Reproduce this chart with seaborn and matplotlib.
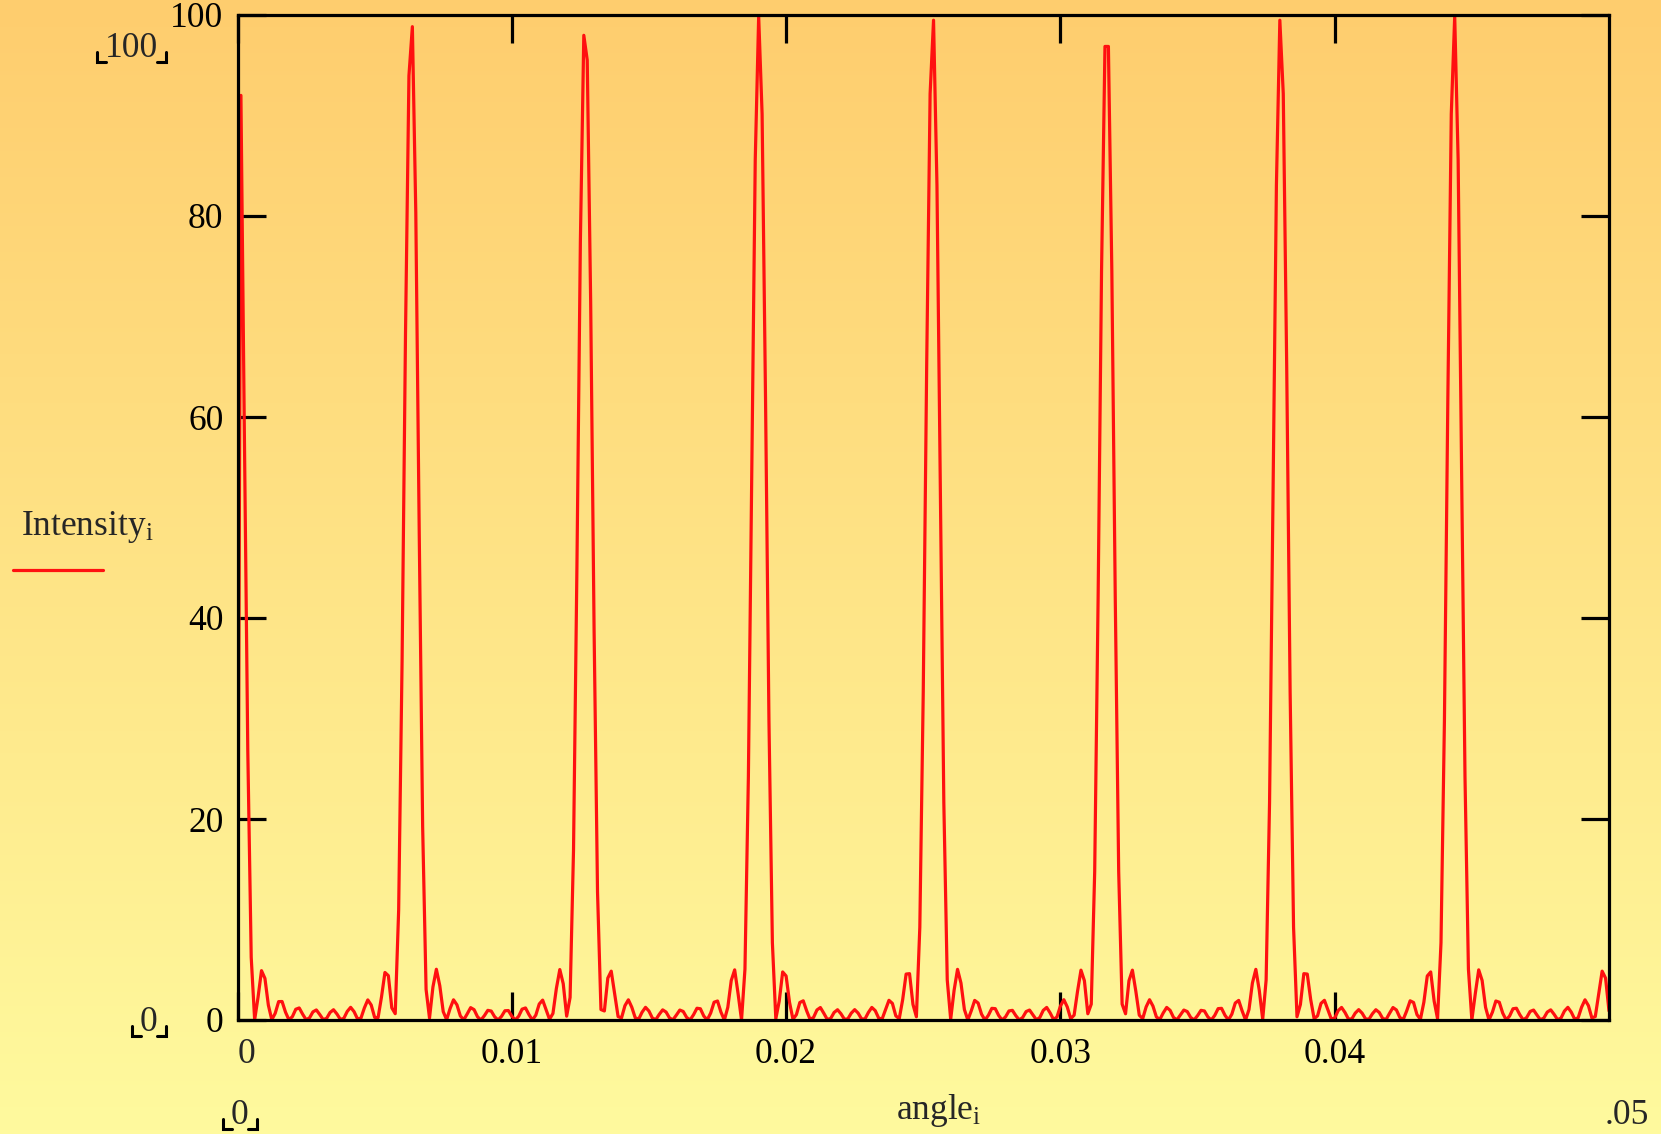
import numpy as np
import matplotlib
matplotlib.use("Agg")
import matplotlib.pyplot as plt
from matplotlib.lines import Line2D
import seaborn as sns

# Sampling of the diffraction angle (rad) and the sampled intensity (% of peak)
ANGLE_STEP = 0.000125
intensity = [
    0.0, 92.0, 58.44, 26.81, 6.23, 0.02, 2.28, 4.91, 4.14, 1.48,
    0.02, 0.67, 1.83, 1.84, 0.78, 0.02, 0.33, 1.07, 1.20, 0.58,
    0.03, 0.21, 0.81, 1.00, 0.54, 0.04, 0.17, 0.75, 1.02, 0.60,
    0.06, 0.16, 0.85, 1.26, 0.83, 0.11, 0.18, 1.20, 2.00, 1.49,
    0.26, 0.23, 2.30, 4.73, 4.41, 1.21, 0.63, 10.92, 35.68, 68.34,
    93.96, 98.84, 80.34, 48.52, 19.20, 3.04, 0.19, 3.29, 5.05, 3.41,
    0.83, 0.03, 1.14, 2.01, 1.51, 0.40, 0.02, 0.61, 1.23, 1.03,
    0.32, 0.00, 0.43, 0.96, 0.89, 0.32, 0.00, 0.36, 0.92, 0.94,
    0.38, 0.00, 0.37, 1.08, 1.20, 0.54, 0.00, 0.48, 1.59, 1.98,
    1.04, 0.07, 0.65, 3.14, 5.02, 3.61, 0.38, 2.24, 16.91, 45.23,
    77.48, 97.98, 95.51, 71.49, 38.80, 12.76, 1.04, 0.90, 4.17, 4.86,
    2.58, 0.34, 0.21, 1.43, 2.01, 1.27, 0.22, 0.08, 0.78, 1.26,
    0.89, 0.19, 0.04, 0.56, 1.01, 0.79, 0.20, 0.02, 0.49, 0.99,
    0.85, 0.25, 0.01, 0.52, 1.17, 1.12, 0.39, 0.01, 0.69, 1.77,
    1.89, 0.78, 0.00, 1.26, 3.93, 4.99, 2.61, 0.00, 5.06, 24.21,
    55.18, 85.58, 99.87, 90.15, 61.83, 29.73, 7.68, 0.12, 1.89, 4.78,
    4.38, 1.76, 0.07, 0.53, 1.74, 1.91, 0.91, 0.06, 0.25, 1.00,
    1.24, 0.67, 0.06, 0.15, 0.75, 1.02, 0.62, 0.08, 0.11, 0.68,
    1.03, 0.69, 0.11, 0.10, 0.75, 1.25, 0.93, 0.19, 0.10, 1.03,
    1.96, 1.65, 0.41, 0.13, 2.03, 4.57, 4.61, 1.55, 0.32, 9.23,
    32.66, 65.11, 92.16, 99.48, 83.04, 51.85, 21.64, 3.98, 0.07, 2.96,
    5.04, 3.68, 1.04, 0.00, 0.91, 1.95, 1.69, 0.58, 0.00, 0.47,
    1.16, 1.13, 0.45, 0.00, 0.31, 0.90, 0.96, 0.43, 0.01, 0.25,
    0.84, 0.99, 0.50, 0.02, 0.25, 0.96, 1.25, 0.71, 0.05, 0.30,
    1.38, 2.02, 1.30, 0.13, 0.48, 2.86, 4.96, 3.91, 0.62, 1.58,
    14.76, 41.99, 74.54, 96.87, 96.87, 74.54, 41.99, 14.76, 1.58, 0.62,
    3.91, 4.96, 2.86, 0.48, 0.13, 1.30, 2.02, 1.38, 0.30, 0.05,
    0.71, 1.25, 0.96, 0.25, 0.02, 0.50, 0.99, 0.84, 0.25, 0.01,
    0.43, 0.96, 0.90, 0.31, 0.00, 0.45, 1.13, 1.16, 0.47, 0.00,
    0.58, 1.69, 1.95, 0.91, 0.00, 1.04, 3.68, 5.04, 2.96, 0.07,
    3.98, 21.64, 51.85, 83.04, 99.48, 92.16, 65.11, 32.66, 9.23, 0.32,
    1.55, 4.61, 4.57, 2.03, 0.13, 0.41, 1.65, 1.96, 1.03, 0.10,
    0.19, 0.93, 1.25, 0.75, 0.10, 0.11, 0.69, 1.03, 0.68, 0.11,
    0.08, 0.62, 1.02, 0.75, 0.15, 0.06, 0.67, 1.24, 1.00, 0.25,
    0.06, 0.91, 1.91, 1.74, 0.53, 0.07, 1.76, 4.38, 4.78, 1.89,
    0.12, 7.68, 29.73, 61.83, 90.15, 99.87, 85.58, 55.18, 24.21, 5.06,
    0.00, 2.61, 4.99, 3.93, 1.26, 0.00, 0.78, 1.89, 1.77, 0.69,
    0.01, 0.39, 1.12, 1.17, 0.52, 0.01, 0.25, 0.85, 0.99, 0.49,
    0.02, 0.20, 0.79, 1.01, 0.56, 0.04, 0.19, 0.89, 1.26, 0.78,
    0.08, 0.22, 1.27, 2.01, 1.43, 0.21, 0.34, 2.58, 4.86, 4.17,
    0.90,
]
angle = np.arange(len(intensity)) * ANGLE_STEP

x_ticks = [0.0, 0.01, 0.02, 0.03, 0.04]
x_tick_labels = ["", "0.01", "0.02", "0.03", "0.04"]
y_ticks = [0, 20, 40, 60, 80, 100]
y_tick_labels = ["0", "20", "40", "60", "80", "100"]
x_range = (0.0, 0.05)
y_range = (0.0, 100.0)

FS = 25.5
sns.set_theme(style="ticks")
plt.rcParams["font.family"] = ["Liberation Serif", "DejaVu Serif"]
plt.rcParams["mathtext.fontset"] = "custom"
plt.rcParams["mathtext.rm"] = "Liberation Serif"
plt.rcParams["mathtext.it"] = "Liberation Serif:italic"

W, H = 1661, 1134
fig = plt.figure(figsize=(W / 100, H / 100), dpi=100)

# warm vertical background wash
top_rgb = np.array([254, 205, 110]) / 255.0
bot_rgb = np.array([255, 250, 158]) / 255.0
t = np.linspace(0, 1, 256)[:, None, None]
grad = top_rgb[None, None, :] * (1 - t) + bot_rgb[None, None, :] * t
bg = fig.add_axes([0, 0, 1, 1], zorder=-5)
bg.imshow(grad, aspect="auto", extent=[0, 1, 0, 1], origin="upper")
bg.set_axis_off()

left, right, top, bottom = 237.5, 1609.0, 15.0, 1020.0
ax = fig.add_axes([left / W, 1 - bottom / H, (right - left) / W, (bottom - top) / H])
ax.set_facecolor("none")

sns.lineplot(x=angle, y=intensity, ax=ax, color="#ff1010", lw=2.3,
             estimator=None, legend=False)

ax.set_xlim(*x_range)
ax.set_ylim(*y_range)
ax.set_xticks(x_ticks)
ax.set_xticklabels(x_tick_labels)
ax.set_yticks(y_ticks)
ax.set_yticklabels(y_tick_labels)
ax.set_xlabel("")
ax.set_ylabel("")
for s in ax.spines.values():
    s.set_visible(True)
    s.set_linewidth(2.3)
    s.set_color("black")
ax.tick_params(axis="both", direction="in", length=20, width=2.3,
               top=True, right=True, labelsize=FS, colors="black")
ax.tick_params(axis="x", pad=13)
ax.tick_params(axis="y", pad=10)


def fx(px):
    return px / W


def fy(py):
    return 1 - py / H


def bracketed(text, cx, baseline, half_w):
    fig.text(fx(cx), fy(baseline), text, ha="center", va="baseline", fontsize=FS)
    yb, yt, arm = baseline + 5, baseline - 5, 9
    xl, xr = cx - half_w, cx + half_w
    for xs, ys in (([xl, xl, xl + arm], [yt, yb, yb]),
                   ([xr - arm, xr, xr], [yb, yb, yt])):
        fig.add_artist(Line2D([fx(v) for v in xs], [fy(v) for v in ys],
                              transform=fig.transFigure, color="black",
                              lw=2.2, solid_joinstyle="miter"))


# first x tick label sits just right of the frame corner
fig.text(fx(246), fy(1063), "0", ha="center", va="baseline", fontsize=FS)

bracketed("100", 131.5, 57, 34.5)
bracketed("0", 148.5, 1031, 17)
bracketed("0", 239.5, 1124, 17)
fig.text(fx(1627), fy(1124), ".05", ha="center", va="baseline", fontsize=FS)
fig.text(fx(939), fy(1119), r"angle$_{\mathrm{i}}$", ha="center", va="baseline",
         fontsize=FS)

# series key on the left
fig.text(fx(21), fy(535), r"Intensity$_{\mathrm{i}}$", ha="left", va="baseline",
         fontsize=FS)
fig.add_artist(Line2D([fx(13), fx(103)], [fy(570), fy(570)],
                      transform=fig.transFigure, color="#ff1010", lw=2.3))

fig.savefig("out.png", dpi=100)
